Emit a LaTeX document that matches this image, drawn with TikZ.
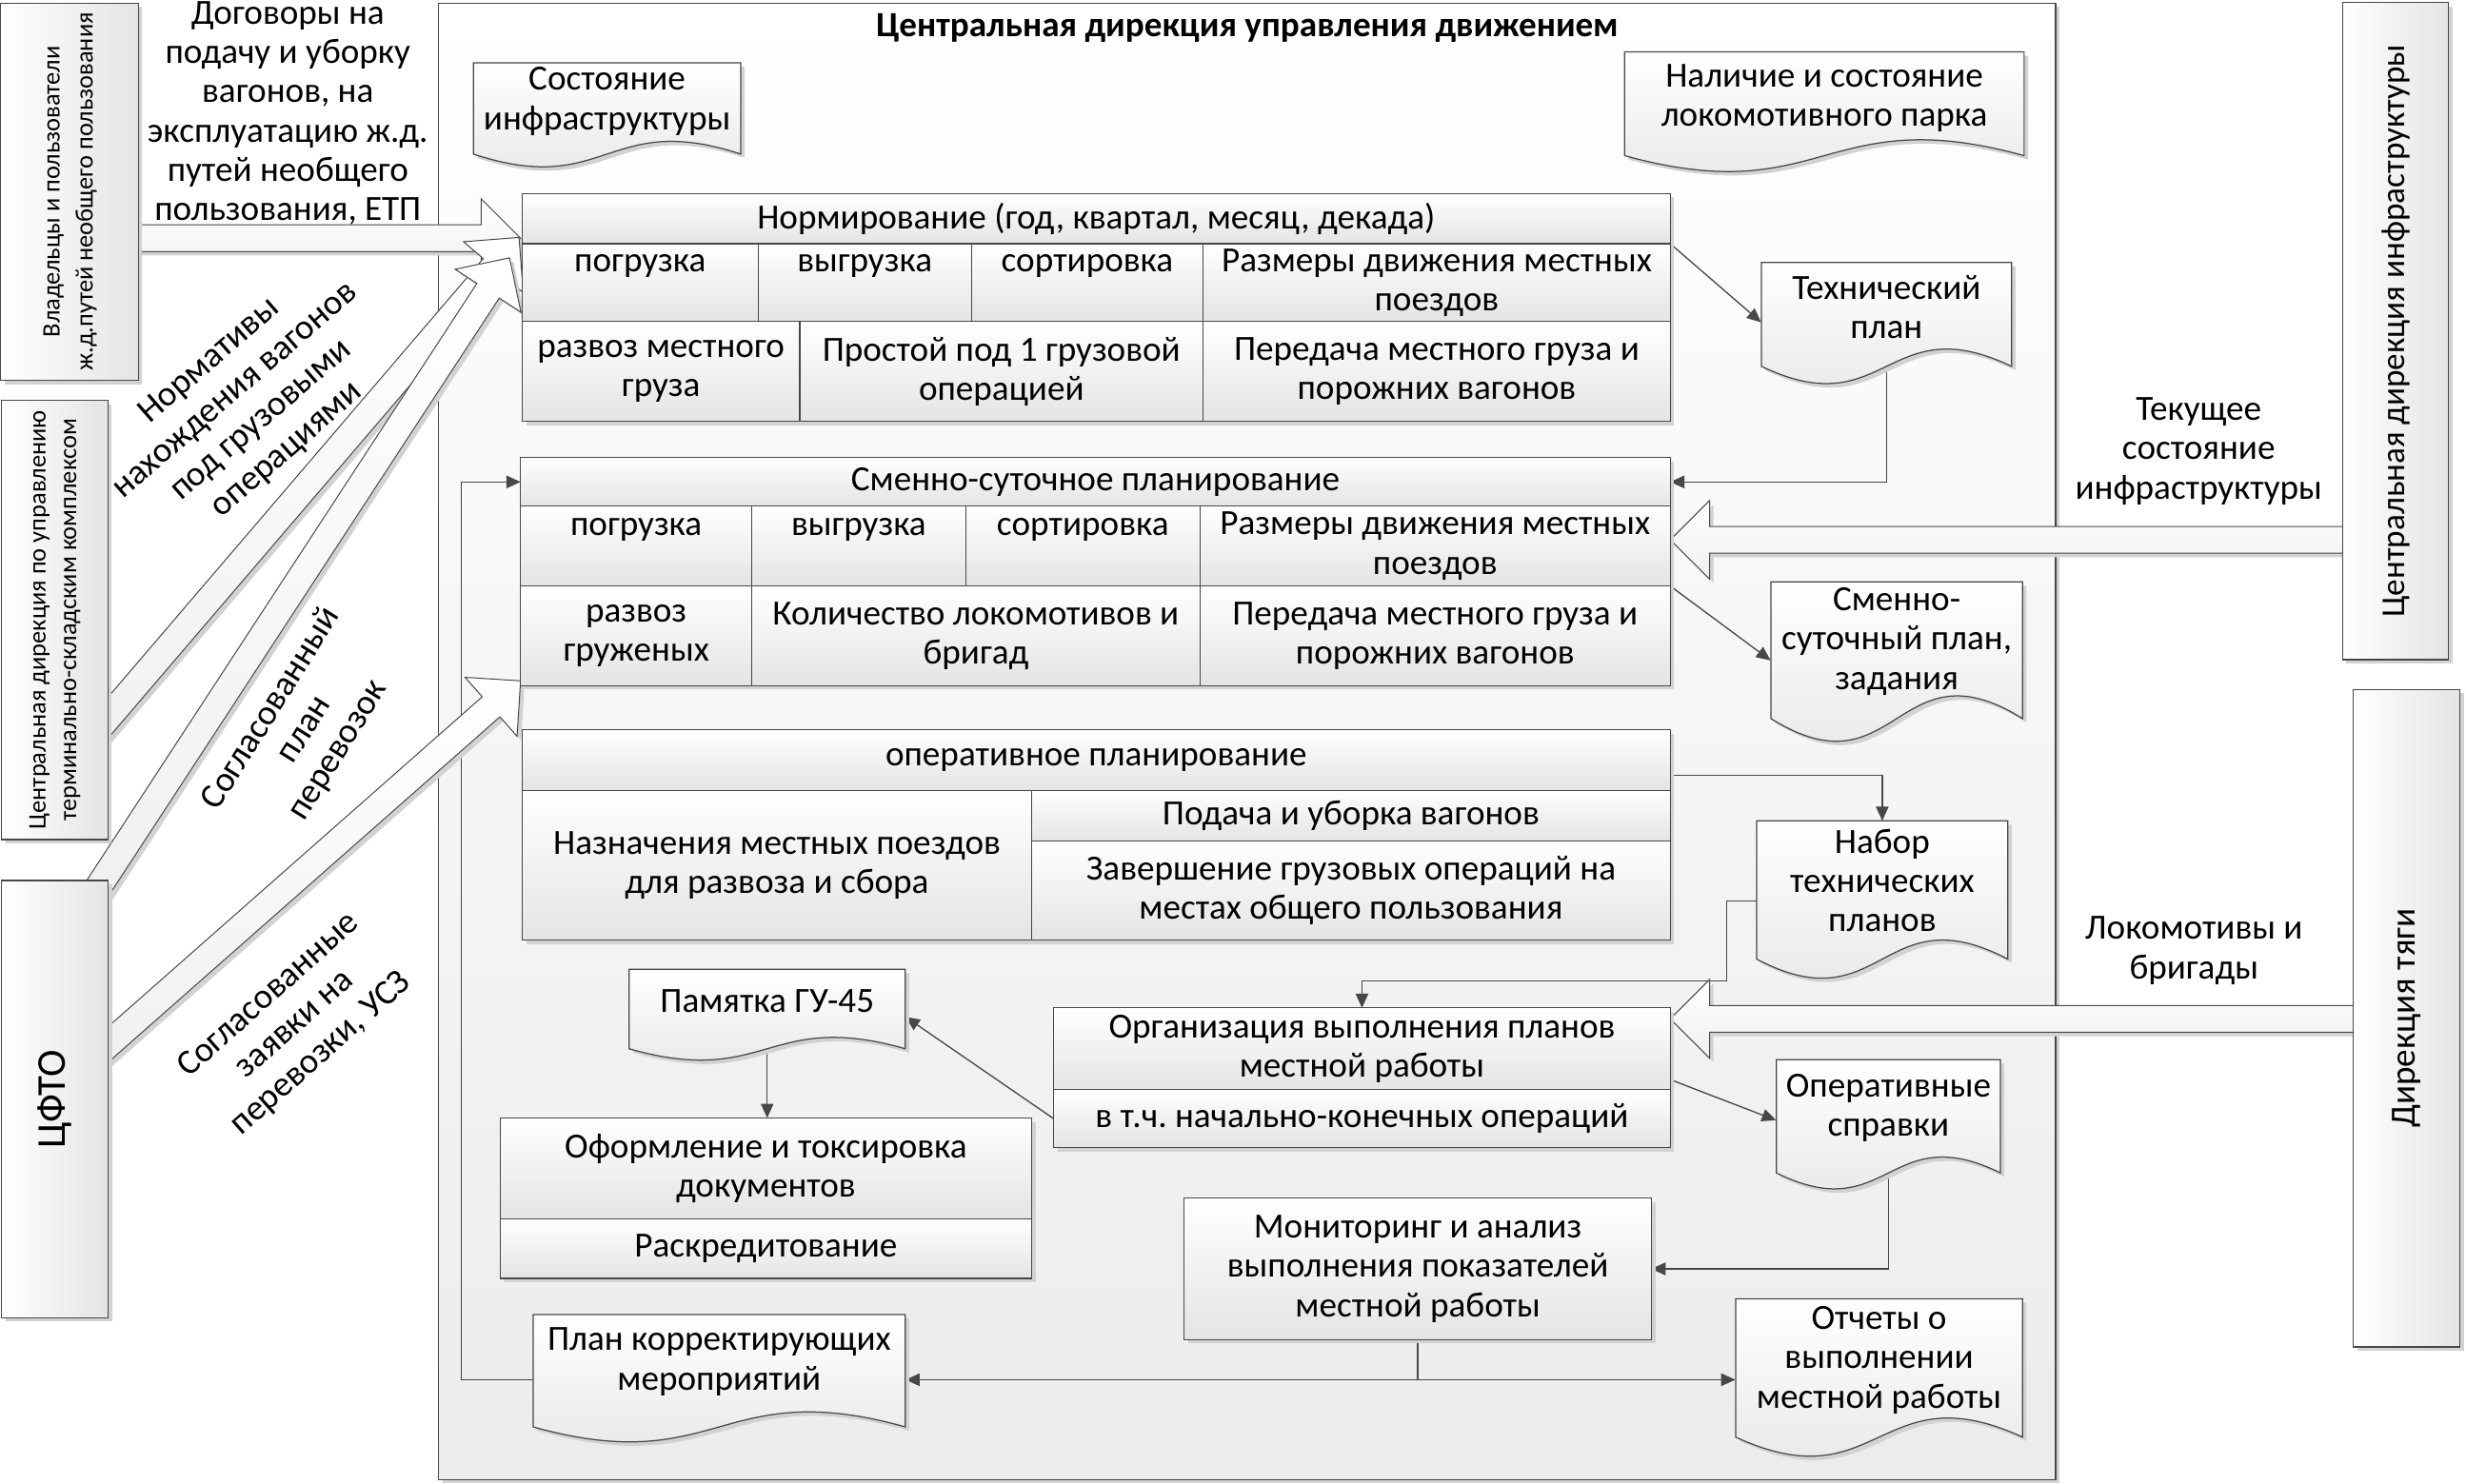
\documentclass[tikz,border=0pt]{standalone}
\usepackage{fontspec}
\setmainfont{Carlito}
\usetikzlibrary{arrows.meta,calc,shadows}
\definecolor{lc}{HTML}{474747}
\definecolor{cellbot}{HTML}{E4E4E4}
\definecolor{framebot}{HTML}{ECECEC}
\definecolor{shdc}{HTML}{D2D2D2}
\pgfdeclarelayer{framel}
\pgfdeclarelayer{connl}
\pgfdeclarelayer{arrowl}
\pgfdeclarelayer{docl}
\pgfsetlayers{framel,connl,arrowl,docl,main}
\newcommand\mainfs{\fontsize{22.5}{25}\selectfont}
\tikzset{
 dshadow/.style={drop shadow={shadow xshift=2.5pt,shadow yshift=-2.5pt,fill=shdc,opacity=1}},
 cellst/.style={draw=lc, line width=0.75pt, top color=white, bottom color=cellbot, inner sep=0pt, outer sep=0pt, align=center, font=\mainfs, dshadow},
 sidebox/.style={draw=lc, line width=0.75pt, left color=white, right color=cellbot, inner sep=0pt, outer sep=0pt, align=center, dshadow},
 docst/.style={draw=lc, line width=0.75pt, top color=white, bottom color=cellbot},
 doctext/.style={align=center, font=\mainfs, inner sep=0pt},
 conn/.style={draw=lc, line width=0.8pt, -{Triangle[length=9pt,width=8pt]}},
 plainline/.style={draw=lc, line width=0.8pt},
 lbl/.style={align=center, font=\mainfs, inner sep=0pt},
 widest/.style={draw=lc, line width=0.6pt, top color=white, bottom color=black!6},
}
\newcommand\tcell[6]{\node[cellst, minimum width={#4pt-#2pt}, minimum height={#5pt-#3pt}] (#1) at ({(#2+#4)/2},{(#3+#5)/2}) {#6};}
\newcommand\docshape[5]{%
 \begin{pgfonlayer}{docl}
 \fill[shdc, transform canvas={shift={(2.5pt,-2.5pt)}}] (#1,#2) -- (#3,#2) -- (#3,#4) .. controls ({(#1+#3)/2},{#4-#5}) and ({(#1+#3)/2},{#4+#5}) .. (#1,#4) -- cycle;
 \path[docst] (#1,#2) -- (#3,#2) -- (#3,#4) .. controls ({(#1+#3)/2},{#4-#5}) and ({(#1+#3)/2},{#4+#5}) .. (#1,#4) -- cycle;
 \end{pgfonlayer}}
\newcommand\widearrow[2]{%
 \begin{pgfonlayer}{arrowl}
 \coordinate (wb) at ($(#2)!25pt!(#1)$);
 \fill[shdc, transform canvas={shift={(2.5pt,-2.5pt)}}] ($(#1)!8.5pt!90:(#2)$) -- ($(wb)!8.5pt!90:(#2)$) -- ($(wb)!25pt!90:(#2)$) -- (#2) -- ($(wb)!25pt!-90:(#2)$) -- ($(wb)!8.5pt!-90:(#2)$) -- ($(#1)!8.5pt!-90:(#2)$) -- cycle;
 \path[widest] ($(#1)!8.5pt!90:(#2)$) -- ($(wb)!8.5pt!90:(#2)$) -- ($(wb)!25pt!90:(#2)$) -- (#2) -- ($(wb)!25pt!-90:(#2)$) -- ($(wb)!8.5pt!-90:(#2)$) -- ($(#1)!8.5pt!-90:(#2)$) -- cycle;
 \end{pgfonlayer}}
\begin{document}
\begin{tikzpicture}[x=1pt,y=-1pt]
\useasboundingbox (0,0) rectangle (1568,943.8);
\begin{pgfonlayer}{framel}
\fill[white] (0,0) rectangle (1568,943.8);
\node[draw=lc, line width=0.75pt, top color=white, bottom color=framebot, minimum width=1028pt, minimum height=939pt, inner sep=0pt, dshadow] (cdud) at (793,471.5) {};
\end{pgfonlayer}
\node[font=\bfseries\mainfs, anchor=north, inner sep=0pt] (ttl) at ([yshift=-7pt]cdud.north) {Центральная дирекция управления движением};

% Нормирование
\tcell{nH}{332}{123}{1062}{155}{Нормирование (год, квартал, месяц, декада)}
\tcell{nA}{332}{155}{482}{204.5}{погрузка\\\mbox{}}
\tcell{nB}{482}{155}{617.6}{204.5}{выгрузка\\\mbox{}}
\tcell{nC}{617.6}{155}{765}{204.5}{сортировка\\\mbox{}}
\tcell{nD}{765}{155}{1062}{204.5}{Размеры движения местных\\поездов}
\tcell{nE}{332}{204.5}{508.5}{268}{развоз местного\\груза}
\tcell{nF}{508.5}{204.5}{765}{268}{Простой под 1 грузовой\\операцией}
\tcell{nG}{765}{204.5}{1062}{268}{Передача местного груза и\\порожних вагонов}
% Сменно-суточное
\tcell{sH}{331}{291}{1062}{322}{Сменно-суточное планирование}
\tcell{sA}{331}{322}{478}{372.7}{погрузка\\\mbox{}}
\tcell{sB}{478}{322}{614}{372.7}{выгрузка\\\mbox{}}
\tcell{sC}{614}{322}{763}{372.7}{сортировка\\\mbox{}}
\tcell{sD}{763}{322}{1062}{372.7}{Размеры движения местных\\поездов}
\tcell{sE}{331}{372.7}{478}{436}{развоз\\груженых}
\tcell{sF}{478}{372.7}{763}{436}{Количество локомотивов и\\бригад}
\tcell{sG}{763}{372.7}{1062}{436}{Передача местного груза и\\порожних вагонов}
% оперативное
\tcell{oH}{332}{464}{1062}{502.6}{оперативное планирование}
\tcell{oL}{332}{502.6}{656}{598}{Назначения местных поездов\\для развоза и сбора}
\tcell{oR1}{656}{502.6}{1062}{534.7}{Подача и уборка вагонов}
\tcell{oR2}{656}{534.7}{1062}{598}{Завершение грузовых операций на\\местах общего пользования}
% Организация
\tcell{orgA}{670}{641}{1062}{693}{Организация выполнения планов\\местной работы}
\tcell{orgB}{670}{693}{1062}{730}{в т.ч.\ начально-конечных операций}
% Оформление
\tcell{ofA}{318}{711}{656}{775}{Оформление и токсировка\\документов}
\tcell{ofB}{318}{775}{656}{813}{Раскредитование}
% Мониторинг
\tcell{mon}{753}{762}{1050}{852}{Мониторинг и анализ\\выполнения показателей\\местной работы}

% documents
\docshape{301}{40}{471}{98}{28}
\node[doctext, minimum width=170pt] (sost) at (386,64.5) {Состояние\\инфраструктуры};
\docshape{1033}{33}{1287}{99}{35}
\node[doctext, minimum width=254pt] (nal) at (1160,62.5) {Наличие и состояние\\локомотивного парка};
\docshape{1120}{167}{1279}{233}{38}
\node[doctext, minimum width=159pt] (tech) at (1199.5,195.5) {Технический\\план};
\docshape{1126}{370}{1286}{457}{50}
\node[doctext, minimum width=160pt] (sspl) at (1206,408) {Сменно-\\суточный план,\\задания};
\docshape{1117}{522}{1276.6}{610}{42}
\node[doctext, minimum width=159.6pt] (nabor) at (1196.8,560) {Набор\\технических\\планов};
\docshape{1129.5}{674}{1272}{746}{35}
\node[doctext, minimum width=142.5pt] (opsp) at (1200.75,704.5) {Оперативные\\справки};
\docshape{1103.6}{826}{1286}{914}{42}
\node[doctext, minimum width=182.4pt] (otch) at (1194.8,865) {Отчеты о\\выполнении\\местной работы};
\docshape{400}{616.5}{575.6}{667}{25}
\node[doctext, minimum width=175.6pt] (pam) at (487.8,637) {Памятка ГУ-45};
\docshape{339}{836}{575.6}{907.5}{33}
\node[doctext, minimum width=236.6pt] (plk) at (457.3,866) {План корректирующих\\мероприятий};

% side boxes
\node[sidebox, minimum width=87.5pt, minimum height=240pt] (vlad) at (44.25,122) {\rotatebox{90}{\fontsize{16}{21}\selectfont\begin{tabular}{@{}c@{}}Владельцы и пользователи\\ж.д.путей необщего пользования\end{tabular}}};
\node[sidebox, minimum width=67.6pt, minimum height=279.4pt] (tsk) at (34.8,394.3) {\rotatebox{90}{\fontsize{16}{19.5}\selectfont\begin{tabular}{@{}c@{}}Центральная дирекция по управлению\\терминально-складским комплексом\end{tabular}}};
\node[sidebox, minimum width=67.8pt, minimum height=278pt] (cfto) at (34.9,699) {\rotatebox{90}{\fontsize{26}{30}\selectfont ЦФТО}};
\node[sidebox, minimum width=67.6pt, minimum height=418pt] (ci) at (1523.2,210.5) {\rotatebox{90}{\fontsize{21.3}{25}\selectfont Центральная дирекция инфраструктуры}};
\node[sidebox, minimum width=67.6pt, minimum height=418.2pt] (dt) at (1530.2,647.5) {\rotatebox{90}{\mainfs Дирекция тяги}};

% labels
\node[lbl] (lDog) at (183,72) {Договоры на\\подачу и уборку\\вагонов, на\\эксплуатацию ж.д.\\путей необщего\\пользования, ЕТП};
\node[lbl, rotate=41] (lNorm) at (158,258) {Нормативы\\нахождения вагонов\\под грузовыми\\операциями};
\node[lbl, rotate=58] (lPlan) at (193.7,464) {Согласованный\\план\\перевозок};
\node[lbl, rotate=41.6] (lZay) at (187.6,651.7) {Согласованные\\заявки на\\перевозки, УСЗ};
\node[lbl] (lTek) at (1398,287) {Текущее\\состояние\\инфраструктуры};
\node[lbl] (lLok) at (1395,604.5) {Локомотивы и\\бригады};

% wide arrows
\coordinate (tA1) at ($(nH.south west)+(-1,-3.5)$);
\coordinate (sA1) at (vlad.center |- tA1);
\widearrow{sA1}{tA1}
\coordinate (tA2) at ($(nH.south west)+(-2,-4)$);
\coordinate (sA2) at ($(tsk.east)+(-28,95)$);
\widearrow{sA2}{tA2}
\coordinate (tA3) at ($(nA.north west)+(-8,9)$);
\coordinate (sA3) at ($(cfto.north)+(16,22)$);
\widearrow{sA3}{tA3}
\coordinate (tA4) at ($(sE.south west)+(0,-3)$);
\coordinate (sA4) at ($(cfto.east)+(-19,-18)$);
\widearrow{sA4}{tA4}
\coordinate (tB1) at ([yshift=4pt]sD.east);
\coordinate (sB1) at (ci.center |- tB1);
\widearrow{sB1}{tB1}
\coordinate (tB2) at ([yshift=19pt]orgA.east);
\coordinate (sB2) at (dt.center |- tB2);
\widearrow{sB2}{tB2}

% connectors
\begin{pgfonlayer}{connl}
\draw[conn] (nD.north east) -- ([yshift=-9.5pt]tech.west);
\draw[conn] ([yshift=-37.5pt]tech.center) |- (sH.east);
\draw[conn] (sD.south east) -- ([yshift=-12pt]sspl.west);
\draw[conn] ([yshift=-10pt]oH.east) -| ([yshift=38pt]nabor.center);
\draw[conn] ([yshift=-13pt]nabor.west) -- ++(-19,0) -- ++(0,51) -| (orgA.north);
\draw[conn] (orgB.west) -- ([yshift=-9.75pt]pam.east);
\draw[conn] ([yshift=-30pt]pam.center) -- (pam.center |- ofA.north);
\draw[conn] ([yshift=6.4pt]orgA.south east) -- ([yshift=-8pt]opsp.west);
\draw[conn] ([yshift=-41.5pt]opsp.center) |- (mon.east);
\draw[plainline] (mon.south) -- ++(0,25.5) coordinate (jn);
\draw[conn] (jn) -- ([yshift=-11.5pt]plk.east);
\draw[conn] (jn) -- ([yshift=-12.5pt]otch.west);
\draw[conn] ([yshift=-11.5pt]plk.west) -- ++(-45.5,0) |- (sH.west);
\end{pgfonlayer}
\end{tikzpicture}
\end{document}
